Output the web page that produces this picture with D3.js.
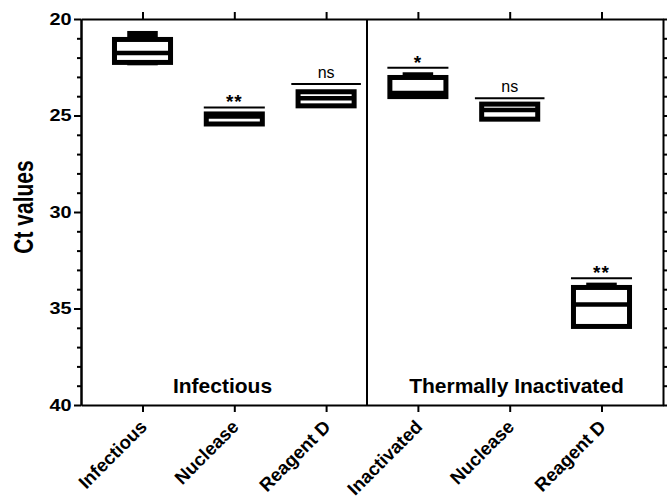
<!DOCTYPE html>
<html>
<head>
<meta charset="utf-8">
<script src="https://cdn.jsdelivr.net/npm/d3@7"></script>
<style>
  html, body { margin: 0; padding: 0; background: #fff; }
  svg { display: block; }
  text { font-family: "Liberation Sans", Arial, Helvetica, sans-serif; }
</style>
</head>
<body>
<svg id="chart" width="667" height="498"></svg>
<script>
// ---- data ----
const categories = ["Infectious", "Nuclease", "Reagent D", "Inactivated", "Nuclease", "Reagent D"];
const groupLabels = ["Infectious", "Thermally Inactivated"];
const minVals    = [20.62, 24.85, 23.74, 22.76, 24.38, 33.66];
const q1Vals     = [21.06, 24.92, 23.77, 23.03, 24.41, 33.91];
const medianVals = [21.76, 25.05, 24.11, 23.83, 24.72, 34.79];
const q3Vals     = [22.25, 25.44, 24.50, 24.02, 25.19, 35.93];
const maxVals    = [22.40, 25.53, 24.52, 24.04, 25.22, 36.00];
const sigLevels  = [null, 24.58, 23.37, 22.52, 24.11, 33.43];
const sigLabels  = ["", "**", "ns", "*", "ns", "**"];
const yMajorTicks = [20, 25, 30, 35, 40];
const yMinorTicks = d3.range(20, 41).filter(v => v % 5 !== 0);
const yDomain = [20, 40];
const yLabel = "Ct values";

(function () {
// ---- layout ----
const mLeft = 81, mRight = 663, mTop = 19, mBottom = 405;
const svg = d3.select("#chart");
svg.append("rect").attr("width", 667).attr("height", 498).attr("fill", "#fff");

const idx = d3.range(categories.length);
const x = d3.scalePoint().domain(idx).range([mLeft, mRight]).padding(0.67);
const y = d3.scaleLinear().domain(yDomain).range([mTop, mBottom]);

const axisStyle = g => {
  g.selectAll("path,line").attr("stroke", "#000").attr("stroke-width", 2);
  g.selectAll("text").attr("fill", "#000");
};

// left axis (major + minor)
svg.append("g").attr("transform", `translate(${mLeft},0)`)
  .call(d3.axisLeft(y).tickValues(yMajorTicks).tickSize(7).tickSizeOuter(0).tickPadding(3))
  .call(axisStyle)
  .call(g => g.selectAll("text")
    .attr("font-size", 17).attr("font-weight", "bold")
    .attr("x", 0).attr("transform", "translate(-9.5,0) scale(1.17,1)"));
svg.append("g").attr("transform", `translate(${mLeft},0)`)
  .call(d3.axisLeft(y).tickValues(yMinorTicks).tickSize(4).tickSizeOuter(0).tickFormat(""))
  .call(axisStyle);

// right axis
svg.append("g").attr("transform", `translate(${mRight},0)`)
  .call(d3.axisRight(y).tickValues(yMajorTicks.concat(yMinorTicks)).tickSize(6).tickSizeOuter(0).tickFormat(""))
  .call(axisStyle);

// top axis
svg.append("g").attr("transform", `translate(0,${mTop})`)
  .call(d3.axisTop(x).tickSize(7).tickSizeOuter(0).tickFormat(""))
  .call(axisStyle);

// bottom axis
svg.append("g").attr("transform", `translate(0,${mBottom})`)
  .call(d3.axisBottom(x).tickSize(7).tickSizeOuter(0).tickFormat(i => categories[i]))
  .call(axisStyle)
  .call(g => g.selectAll("text")
    .attr("font-size", 18.5).attr("font-weight", "bold")
    .attr("text-anchor", "end")
    .attr("x", 0).attr("y", 0).attr("dy", 0)
    .attr("transform", "translate(5,23) rotate(-45)"));

// divider between groups
const divX = (x(2) + x(3)) / 2 - 5;
svg.append("line").attr("x1", divX).attr("x2", divX).attr("y1", mTop).attr("y2", mBottom)
  .attr("stroke", "#000").attr("stroke-width", 2);

// group labels
const panelCenters = [(mLeft + divX) / 2, (divX + mRight) / 2];
svg.selectAll(".grp").data(groupLabels).enter().append("text")
  .attr("x", (d, i) => panelCenters[i] + (i === 0 ? -1.5 : 1.5)).attr("y", mBottom - 12)
  .attr("text-anchor", "middle").attr("font-size", 21).attr("font-weight", "bold")
  .text(d => d);

// y label
svg.append("text")
  .attr("transform", `translate(33,207) rotate(-90) scale(1,1.3)`)
  .attr("text-anchor", "middle").attr("font-size", 21).attr("font-weight", "bold")
  .text(yLabel);

// boxes
const bw = x.step() * 0.665;
const ww = bw * 0.5;
const sw = 5;
const boxes = svg.append("g");
idx.forEach(i => {
  const cx = x(i);
  if (minVals[i] < q1Vals[i]) {
    boxes.append("rect").attr("x", cx - ww / 2).attr("width", ww)
      .attr("y", y(minVals[i])).attr("height", y(q1Vals[i]) - y(minVals[i])).attr("fill", "#000");
  }
  if (maxVals[i] > q3Vals[i]) {
    boxes.append("rect").attr("x", cx - ww / 2).attr("width", ww)
      .attr("y", y(q3Vals[i])).attr("height", y(maxVals[i]) - y(q3Vals[i])).attr("fill", "#000");
  }
  boxes.append("rect").attr("x", cx - bw / 2 + sw / 2).attr("width", bw - sw)
    .attr("y", y(q1Vals[i])).attr("height", y(q3Vals[i]) - y(q1Vals[i]))
    .attr("fill", "none").attr("stroke", "#000").attr("stroke-width", sw);
  boxes.append("line").attr("x1", cx - bw / 2 + sw / 2).attr("x2", cx + bw / 2 - sw / 2)
    .attr("y1", y(medianVals[i])).attr("y2", y(medianVals[i]))
    .attr("stroke", "#000").attr("stroke-width", sw - 0.5);

  if (sigLevels[i] !== null) {
    const ly = y(sigLevels[i]);
    const isNs = sigLabels[i] === "ns";
    const lw = isNs ? bw * 1.14 : bw;
    boxes.append("line").attr("x1", cx - lw / 2).attr("x2", cx + lw / 2)
      .attr("y1", ly).attr("y2", ly).attr("stroke", "#000").attr("stroke-width", 2);
    boxes.append("text").attr("x", cx).attr("y", isNs ? ly - 6.5 : ly + 1)
      .attr("text-anchor", "middle")
      .attr("font-size", isNs ? 16 : 19).attr("font-weight", isNs ? "normal" : "bold")
      .attr("letter-spacing", isNs ? 0 : 1)
      .text(sigLabels[i]);
  }
});
})();
</script>
</body>
</html>
